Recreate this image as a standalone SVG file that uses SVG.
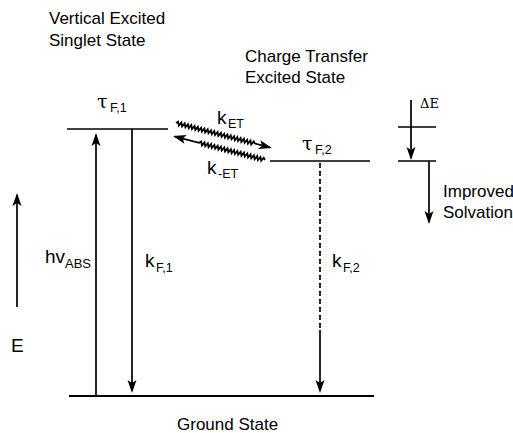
<svg xmlns="http://www.w3.org/2000/svg" width="513" height="433" viewBox="0 0 513 433">
<style>
  .ln { stroke: #000; stroke-width: 1.7; fill: none; }
  .t { font-family: "Liberation Sans", Arial, sans-serif; font-size: 17px; fill: #000; }
  .k { font-family: "Liberation Sans", Arial, sans-serif; font-size: 19px; fill: #000; }
  .sub { font-family: "Liberation Sans", Arial, sans-serif; font-size: 12.5px; fill: #000; }
  .gr { font-family: "DejaVu Serif", "Liberation Serif", serif; font-size: 19px; fill: #000; }
  .ar { marker-end: url(#ah); }
  .wv { stroke: #000; stroke-width: 1.8; fill: none; marker-end: url(#ah); }
</style>
<defs>
  <marker id="ah" markerUnits="userSpaceOnUse" orient="auto" refX="0" refY="0" markerWidth="20" markerHeight="20" overflow="visible">
    <path d="M2,0 L-11,-4.5 L-8,0 L-11,4.5 Z" fill="#000"/>
  </marker>
</defs>
<rect width="513" height="433" fill="#fff"/>

<g id="vertical-excited-state">
  <text class="t" x="49" y="24">Vertical Excited</text>
  <text class="t" x="49" y="46">Singlet State</text>
  <line class="ln" x1="67" y1="129" x2="168" y2="129"/>
  <text class="gr" x="97" y="108">τ</text>
  <text class="sub" x="110" y="112">F,1</text>
</g>

<g id="charge-transfer-state">
  <text class="t" x="245" y="62">Charge Transfer</text>
  <text class="t" x="245" y="83">Excited State</text>
  <line class="ln" x1="270" y1="161" x2="370" y2="161"/>
  <text class="gr" x="302" y="150">τ</text>
  <text class="sub" x="315" y="154">F,2</text>
</g>

<g id="ground-state">
  <line class="ln" x1="69" y1="396" x2="374" y2="396" style="stroke-width:2"/>
  <text class="t" x="177" y="430">Ground State</text>
</g>

<g id="energy-axis">
  <text class="k" x="11" y="352">E</text>
</g>

<g id="delta-e">
  <line class="ln" x1="398" y1="127" x2="436" y2="127"/>
  <line class="ln" x1="398" y1="161" x2="436" y2="161"/>
  <text class="gr" x="420" y="108" style="font-size:13px">ΔE</text>
  <text class="t" x="443" y="197">Improved</text>
  <text class="t" x="443" y="218">Solvation</text>
</g>

<g id="labels">
  <text class="k" x="45" y="263">hv</text>
  <text class="sub" x="65" y="268" style="font-size:13px">ABS</text>
  <text class="k" x="145" y="267">k</text>
  <text class="sub" x="156" y="272">F,1</text>
  <text class="k" x="332" y="267">k</text>
  <text class="sub" x="343" y="272">F,2</text>
  <text class="k" x="217" y="124">k</text>
  <text class="sub" x="228" y="128">ET</text>
  <text class="k" x="207" y="174">k</text>
  <text class="sub" x="218" y="178">-ET</text>
</g>

<g id="connectors">
  <line class="ln ar" x1="17" y1="307" x2="17" y2="195"/>
  <line class="ln ar" x1="96" y1="396" x2="96" y2="135"/>
  <line class="ln ar" x1="132" y1="129" x2="132" y2="391"/>
  <line class="ln" x1="320" y1="163" x2="320" y2="330" stroke-dasharray="5,3"/>
  <line class="ln ar" x1="320" y1="330" x2="320" y2="391"/>
  <line class="ln ar" x1="411" y1="100" x2="411" y2="158"/>
  <line class="ln ar" x1="429" y1="161" x2="429" y2="222"/>
  <g transform="translate(176,123) rotate(14.6)">
    <path class="wv" d="M0,0 l1.7,-1.8 l1.7,3.6 l1.7,-3.6 l1.7,3.6 l1.7,-3.6 l1.7,3.6 l1.7,-3.6 l1.7,3.6 l1.7,-3.6 l1.7,3.6 l1.7,-3.6 l1.7,3.6 l1.7,-3.6 l1.7,3.6 l1.7,-3.6 l1.7,3.6 l1.7,-3.6 l1.7,3.6 l1.7,-3.6 l1.7,3.6 l1.7,-3.6 l1.7,3.6 l1.7,-3.6 l1.7,3.6 l1.7,-3.6 l1.7,3.6 l1.7,-3.6 l1.7,3.6 l1.7,-3.6 l1.7,3.6 l1.7,-3.6 l1.7,3.6 l1.7,-3.6 l1.7,3.6 l1.7,-3.6 l1.7,3.6 l1.7,-3.6 l1.7,3.6 l1.7,-3.6 l1.7,3.6 l1.7,-3.6 l1.7,3.6 l1.7,-3.6 l1.7,3.6 l1.7,-3.6 l1.7,3.6 l1.7,-3.6 l1.7,1.8 L97,0"/>
  </g>
  <g transform="translate(173,136) rotate(14.6)">
    <path class="wv" d="M95,0 l-1.7,-1.8 l-1.7,3.6 l-1.7,-3.6 l-1.7,3.6 l-1.7,-3.6 l-1.7,3.6 l-1.7,-3.6 l-1.7,3.6 l-1.7,-3.6 l-1.7,3.6 l-1.7,-3.6 l-1.7,3.6 l-1.7,-3.6 l-1.7,3.6 l-1.7,-3.6 l-1.7,3.6 l-1.7,-3.6 l-1.7,3.6 l-1.7,-3.6 l-1.7,3.6 l-1.7,-3.6 l-1.7,3.6 l-1.7,-3.6 l-1.7,3.6 l-1.7,-3.6 l-1.7,3.6 l-1.7,-3.6 l-1.7,3.6 l-1.7,-3.6 l-1.7,3.6 l-1.7,-3.6 l-1.7,3.6 l-1.7,-3.6 l-1.7,3.6 l-1.7,-3.6 l-1.7,3.6 l-1.7,-3.6 l-1.7,3.6 l-1.7,-3.6 l-1.7,1.8 L2,0"/>
  </g>
</g>
</svg>
